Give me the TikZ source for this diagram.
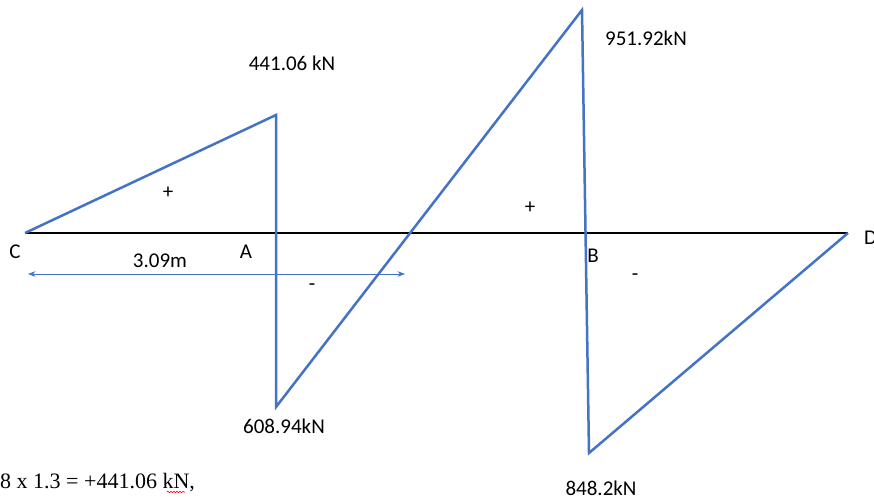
\documentclass[tikz,border=0pt]{standalone}
\usepackage{fontspec}
\setmainfont{Carlito}
\newfontfamily\timesfont{Liberation Serif}
\usepackage{xcolor}
\usepackage{tikz}
\usetikzlibrary{arrows.meta,positioning,calc,decorations.pathmorphing}
\definecolor{sfdblue}{RGB}{68,114,196}
\tikzset{lab/.style={font=\fontsize{21}{25}\selectfont,inner sep=0pt}}

\begin{document}
\begin{tikzpicture}[x=1pt,y=-1pt,>=Stealth]
  \useasboundingbox (0,0) rectangle (874,497);
  \coordinate (C) at (25,233);
  \coordinate (D) at (848,233);
  \coordinate (Atop) at (276,115);
  \coordinate (Abot) at (276,407);
  \coordinate (Btop) at (582,10);
  \coordinate (Bbot) at (589,453);
  \draw[line width=2pt] (C) -- (D);
  \draw[line width=2.5pt,sfdblue] (C) -- (Atop) -- (Abot) -- (Btop) -- (Bbot) -- (D);
  \coordinate (dimL) at (28,274);
  \coordinate (dimR) at (405,274);
  \draw[<->,sfdblue,line width=1pt] (dimL) -- (dimR);
  \foreach \pt/\lab/\nm in {{(292,63)}/441.06 kN/vA1,{(646,38)}/951.92kN/vB1,{(284,426)}/608.94kN/vA2,
     {(601,488)}/848.2kN/vB2,{(160,261)}/3.09m/len,{(15,252)}/C/labC,{(246,252)}/A/labA,{(593,256)}/B/labB,
     {(168,193)}/+/sp1,{(530,208)}/+/sp2,{(312,287)}/-/sm1,{(635,277)}/-/sm2}
     {\node[lab] (\nm) at \pt {\lab};}
  \node[lab,anchor=west] (labD) at (864,238) {D};
  \node[inner sep=0pt,anchor=base west,font=\timesfont\fontsize{22}{26}\selectfont] (eqn) at (0,488) {8 x 1.3 = +441.06 kN,};
  \coordinate (wavL) at (167,492);
  \coordinate (wavR) at (185,492);
  \draw[red,line width=0.6pt,decorate,decoration={snake,amplitude=0.8pt,segment length=3pt}] (wavL) -- (wavR);
\end{tikzpicture}
\end{document}
